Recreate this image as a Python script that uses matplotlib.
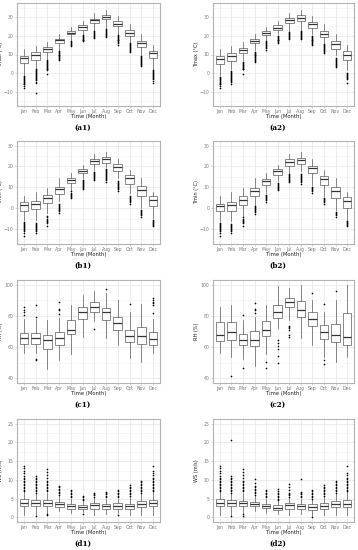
import matplotlib.pyplot as plt

months = ["Jan", "Feb", "Mar", "Apr", "May", "Jun", "Jul", "Aug", "Sep", "Oct", "Nov", "Dec"]

# ---- (a1) Tmax ----
a1_lo = [-0.9, 2.7, 7.4, 12.4, 17.3, 21.2, 23.0, 24.0, 21.2, 16.8, 9.7, 2.2]
a1_q1 = [5.3, 7.1, 11.1, 16.3, 20.7, 23.3, 27.0, 28.8, 25.2, 20.0, 13.8, 8.0]
a1_med = [8.0, 9.7, 12.7, 17.5, 21.7, 24.5, 28.2, 30.2, 26.5, 21.7, 15.9, 10.9]
a1_q3 = [9.2, 11.1, 13.8, 18.5, 22.6, 25.6, 29.1, 31.0, 27.7, 23.0, 17.1, 11.9]
a1_hi = [12.7, 14.5, 16.8, 21.0, 24.7, 27.9, 32.3, 33.5, 30.4, 26.5, 20.7, 15.0]
a1_out = [
    [-1.5, -2, -2.5, -3, -3.5, -4, -4.5, -5, -5.5, -6, -7, -8],
    [2, 1.5, 1, 0.5, 0, -0.5, -1, -1.5, -2, -2.5, -3, -3.5, -4.5, -5, -10.5],
    [7, 6.5, 6, 5.5, 5, 4.5, 4, 3.5, 3, 2.5, 2, 1.5, -0.5],
    [12, 11.5, 11, 10.5, 10, 9.5, 9, 8.5, 8, 7.5, 7],
    [17, 16.5, 16, 15.5, 15, 14.5],
    [20.5, 20, 19.5, 19, 18.5, 18, 17.5, 17],
    [22.5, 22, 21.5, 21, 20.5, 20, 19.5, 19],
    [23.5, 23, 22.5, 22, 21.5, 21, 20.5, 20, 19.5],
    [20.5, 20, 19.5, 19, 18.5, 18, 17.5, 17, 16.5, 16, 15],
    [16, 15.5, 15, 14.5, 14, 13.5, 13, 12.5, 12, 11.5],
    [9, 8.5, 8, 7.5, 7, 6.5, 6, 5.5, 5, 4.5, 4],
    [1.5, 1, 0.5, 0, -0.5, -1, -1.5, -2, -2.5, -3, -4, -5],
]

# ---- (a2) Tmax ----
a2_lo = [-0.9, 2.3, 7.1, 12.4, 16.3, 20.7, 22.4, 23.0, 20.7, 16.3, 9.7, 1.8]
a2_q1 = [4.9, 6.7, 10.6, 15.9, 20.5, 23.3, 26.8, 27.9, 24.4, 19.4, 12.7, 7.1]
a2_med = [7.6, 9.2, 12.4, 17.1, 21.5, 24.4, 28.2, 29.6, 26.1, 21.2, 15.5, 10.0]
a2_q3 = [9.2, 10.6, 13.6, 18.4, 22.4, 25.6, 29.3, 30.9, 27.4, 22.6, 17.3, 11.9]
a2_hi = [12.7, 14.5, 16.8, 21.0, 24.7, 27.9, 32.3, 33.5, 30.4, 26.1, 20.7, 15.0]
a2_out = [
    [-2, -2.5, -3, -3.5, -4, -4.5, -5, -5.5, -6, -7, -8],
    [1, 0.5, 0, -0.5, -1, -1.5, -2, -2.5, -3, -3.5, -4, -4.5, -5.5],
    [6, 5.5, 5, 4.5, 4, 3.5, 3, 2.5, 2, -0.5],
    [11.5, 11, 10.5, 10, 9.5, 9, 8.5, 8, 7.5, 7, 6.5, 6],
    [17, 16.5, 16, 15.5, 15, 14.5, 14, 13.5, 12.5],
    [20, 19.5, 19, 18.5, 18, 17.5, 17, 16.5, 16],
    [22, 21.5, 21, 20.5, 20, 19.5, 19, 18.5],
    [22.5, 22, 21.5, 21, 20.5, 20, 19.5, 19, 18.5],
    [20, 19.5, 19, 18.5, 18, 17.5, 17, 16.5, 16, 15.5, 15],
    [15.5, 15, 14.5, 14, 13.5, 13, 12.5, 12, 11.5, 11],
    [8, 7.5, 7, 6.5, 6, 5.5, 5, 4.5, 4, 3.5],
    [0, -0.5, -1, -1.5, -2, -2.5, -3, -5],
]

# ---- (b1) Tmin ----
b1_lo = [-5.5, -5.5, -2.4, 3.2, 8.8, 14.4, 18.4, 19.6, 14.4, 7.1, 0.0, -4.7]
b1_q1 = [-1.2, -0.3, 2.4, 6.7, 12.0, 16.8, 21.1, 21.9, 17.9, 11.5, 5.6, 0.8]
b1_med = [1.6, 2.1, 4.8, 9.1, 13.6, 18.0, 22.7, 23.6, 19.6, 14.4, 8.8, 4.0]
b1_q3 = [2.9, 3.5, 6.4, 10.0, 14.7, 18.8, 23.6, 24.7, 21.1, 15.7, 10.4, 5.6]
b1_hi = [5.6, 7.7, 9.6, 14.5, 17.1, 20.8, 25.9, 27.1, 23.5, 18.4, 14.4, 7.7]
b1_out = [
    [-6.5, -7, -7.5, -8, -8.5, -9, -9.5, -10, -10.5, -11, -12, -13.2],
    [-7, -7.5, -8, -8.5, -9, -9.5, -10, -10.5, -11, -11.9],
    [-4, -4.5, -5, -5.5, -6, -6.5, -7, -8.5],
    [2, 1.5, 1, 0.5, 0, -0.5, -1, -1.5, -2.5],
    [8, 7.5, 7, 6.5, 6, 5.5, 4.8],
    [13.5, 13, 12.5, 12, 11.5, 11, 10.5, 10, 9.5, 9],
    [17.5, 17, 16.5, 16, 15.5, 15, 14.5, 14, 13.5],
    [19, 18.5, 18, 17.5, 17, 16.5, 16, 15.5, 15, 14.5, 14, 13.5, 12.5],
    [13, 12.5, 12, 11.5, 11, 10.5, 10, 9.5, 9, 8],
    [6, 5.5, 5, 4.5, 4, 3.5, 3, 2],
    [-1, -1.5, -2, -2.5, -3, -3.5, -4.5],
    [-5.5, -6, -6.5, -7, -7.5, -8, -8.8],
]

# ---- (b2) Tmin ----
b2_lo = [-6.3, -6.0, -4.4, 1.6, 7.2, 12.8, 16.8, 17.6, 11.2, 5.6, -0.8, -5.5]
b2_q1 = [-1.6, -1.2, 1.6, 5.9, 11.2, 15.7, 20.4, 21.1, 16.8, 10.9, 4.8, 0.0]
b2_med = [0.8, 1.6, 4.0, 8.3, 12.8, 17.6, 22.0, 23.1, 19.2, 13.9, 8.0, 3.5]
b2_q3 = [2.0, 2.7, 5.6, 9.6, 13.9, 18.8, 23.5, 24.3, 20.4, 15.2, 10.0, 5.1]
b2_hi = [5.6, 7.7, 9.6, 14.5, 17.1, 20.8, 25.9, 27.1, 23.5, 18.4, 14.4, 7.7]
b2_out = [
    [-7, -7.5, -8, -8.5, -9, -9.5, -10, -10.5, -11, -12, -13.5],
    [-7.5, -8, -8.5, -9, -9.5, -10, -10.5, -11, -12],
    [-4.5, -5, -5.5, -6, -6.5, -7, -8.5],
    [1, 0.5, 0, -0.5, -1, -1.5, -2, -3],
    [6.5, 6, 5.5, 5, 4.5, 4, 3],
    [12, 11.5, 11, 10.5, 10, 9.5, 9, 8.5],
    [16.5, 16, 15.5, 15, 14.5, 14, 13.5, 13, 12.5],
    [16.5, 16, 15.5, 15, 14.5, 14, 13.5, 13, 12.5, 11.5],
    [10, 9.5, 9, 8.5, 8, 7.5],
    [5, 4.5, 4, 3.5, 3, 2],
    [-2, -2.5, -3, -3.5, -4.5],
    [-6, -6.5, -7, -7.5, -8, -8.5],
]

# ---- (c1) RH ----
c1_lo = [56.3, 56.3, 46.2, 51.7, 55.9, 66.5, 76.5, 65.9, 61.6, 53.1, 50.6, 56.3]
c1_q1 = [62.3, 62.3, 58.9, 61.6, 68.4, 78.0, 82.2, 77.1, 71.2, 63.3, 62.3, 61.6]
c1_med = [65.9, 65.9, 64.4, 65.9, 71.2, 82.2, 85.6, 82.2, 75.4, 67.4, 66.9, 65.2]
c1_q3 = [69.0, 69.0, 68.0, 69.9, 77.1, 86.0, 88.6, 84.9, 79.0, 70.7, 72.9, 69.5]
c1_hi = [78.0, 78.0, 77.5, 78.6, 86.9, 93.4, 96.2, 94.5, 90.2, 82.4, 87.7, 78.0]
c1_out = [
    [80.7, 82.2, 83.5, 85.6],
    [79.2, 87.3, 52.5, 51.7],
    [],
    [81.3, 83.5, 84.3, 89.2],
    [],
    [],
    [71.6],
    [97.5],
    [],
    [87.7],
    [],
    [81.8, 87, 88, 89, 90, 91.5],
]

# ---- (c2) RH ----
c2_lo = [56.3, 53.8, 52.5, 47.8, 55.3, 72.2, 77.5, 65.9, 61.6, 53.8, 50.4, 53.8]
c2_q1 = [63.7, 64.4, 61.6, 61.0, 67.4, 78.6, 85.6, 79.6, 73.3, 65.2, 63.1, 61.6]
c2_med = [68.0, 69.7, 64.8, 64.8, 71.2, 82.8, 88.8, 83.9, 78.0, 69.5, 68.0, 66.5]
c2_q3 = [75.8, 76.0, 68.6, 70.1, 76.5, 87.3, 91.3, 89.8, 82.2, 73.9, 75.0, 81.8]
c2_hi = [85.6, 87.3, 77.5, 79.6, 87.1, 99.2, 97.7, 100.0, 90.5, 82.4, 90.2, 100.0]
c2_out = [
    [],
    [41.5],
    [80.5, 46.6],
    [82, 83.5, 84.5, 88.5],
    [50.4, 46.6],
    [64.8, 62.7, 60.6, 58.5, 54.6, 50],
    [73.7, 72.9, 72, 71.2, 67.8, 66.5],
    [],
    [94.5],
    [87.7, 51.7, 48.9],
    [96.2],
    [],
]

# ---- (d1) WS ----
d1_lo = [0.5, 0.7, 1.2, 1.6, 1.2, 1.4, 0.7, 0.9, 1.1, 0.7, 0.7, 0.5]
d1_q1 = [2.9, 3.1, 3.1, 2.7, 2.3, 2.1, 2.3, 2.3, 2.3, 2.3, 2.7, 2.9]
d1_med = [3.8, 3.8, 3.7, 3.5, 3.0, 2.7, 3.2, 2.9, 3.1, 3.0, 3.5, 3.8]
d1_q3 = [4.9, 4.5, 4.5, 4.1, 3.6, 3.3, 3.8, 3.5, 3.7, 3.6, 4.3, 4.7]
d1_hi = [6.7, 6.2, 6.5, 5.6, 5.0, 4.3, 5.1, 5.0, 5.0, 5.3, 6.2, 6.7]
d1_out = [
    [7, 7.4, 7.8, 8.2, 8.6, 9, 9.4, 9.8, 10.2, 10.6, 11, 11.8, 12.5, 13.2, 13.8],
    [6.6, 7, 7.4, 7.8, 8.2, 8.6, 9, 9.4, 9.8, 10.2, 10.6, 10.9, 0.3],
    [7, 7.4, 7.8, 8.2, 8.6, 9, 9.4, 9.8, 10.5, 11.3, 12.2, 12.9, 0.8, 0.5],
    [6, 6.4, 6.8, 7.2, 7.6, 8, 8.3],
    [5.4, 5.8, 6.2, 6.6, 7, 7.4],
    [4.6, 5, 5.3, 5.6, 0.9],
    [5.5, 5.9, 6.3, 6.6],
    [5.4, 5.8, 6.2, 6.6, 6.8],
    [5.4, 5.8, 6.2, 6.6, 7, 7.3, 0.5],
    [5.8, 6.2, 6.6, 7, 7.4, 7.8, 8.2, 8.7],
    [6.6, 7, 7.4, 7.8, 8.2, 8.6, 9, 9.4, 9.8],
    [7, 7.4, 7.8, 8.2, 8.6, 9, 9.4, 9.8, 10.2, 10.6, 11.2, 11.8, 12.5, 13.8],
]

# ---- (d2) WS ----
d2_lo = [0.5, 0.7, 1.2, 1.6, 1.2, 1.0, 0.7, 0.9, 0.4, 0.7, 0.7, 0.5]
d2_q1 = [2.9, 2.9, 3.1, 2.9, 2.5, 2.0, 2.3, 2.3, 2.0, 2.3, 2.7, 2.7]
d2_med = [3.7, 3.7, 3.7, 3.5, 3.0, 2.5, 3.2, 2.9, 2.7, 3.1, 3.5, 3.6]
d2_q3 = [4.9, 4.5, 4.4, 4.1, 3.5, 3.2, 3.8, 3.5, 3.5, 3.7, 4.3, 4.5]
d2_hi = [6.7, 6.2, 6.5, 5.6, 5.0, 4.3, 5.1, 5.0, 4.8, 5.3, 6.2, 6.7]
d2_out = [
    [7, 7.4, 7.8, 8.2, 8.6, 9, 9.4, 9.8, 10.2, 10.6, 11, 11.8, 12.5, 13.2, 13.8],
    [6.6, 7, 7.4, 7.8, 8.2, 8.6, 9, 9.4, 9.8, 10.2, 10.6, 11, 20.7, 0.3],
    [7, 7.4, 7.8, 8.2, 8.6, 9, 9.4, 9.8, 10.5, 11.3, 12.2, 13, 0.8, 0.3],
    [6, 6.4, 6.8, 7.2, 7.6, 8, 8.3, 9.2, 10.2],
    [5.4, 5.8, 6.2, 6.6, 7, 7.4],
    [4.6, 5, 5.4, 5.8, 6.2, 6.6, 7, 7.5],
    [5.5, 5.9, 6.3, 6.6, 7.4, 8.2, 9],
    [5.4, 5.8, 6.2, 6.6, 6.8, 10.2],
    [5, 5.4, 5.8, 6.2, 6.6, 7, 7.3, 0.1],
    [5.8, 6.2, 6.6, 7, 7.4, 7.8, 8.2, 8.7],
    [6.6, 7, 7.4, 7.8, 8.2, 8.6, 9, 9.4, 9.8],
    [7, 7.4, 7.8, 8.2, 8.6, 9, 9.4, 9.8, 10.2, 10.6, 11.2, 11.8, 13.8],
]

# -------------------------
# Figure
# -------------------------
W, H = 358, 550
fig = plt.figure(figsize=(W / 100, H / 100), dpi=100)


def panel(left, top, width, height, lo, q1, med, q3, hi, out,
          ylim, yticks, yminor, ylabel, tag):
    ax = fig.add_axes([left / W, 1 - (top + height) / H, width / W, height / H])
    stats = []
    for i in range(12):
        stats.append(dict(whislo=lo[i], q1=q1[i], med=med[i], q3=q3[i],
                          whishi=hi[i], fliers=out[i]))
    ax.bxp(stats, positions=range(1, 13), widths=0.75, patch_artist=True,
           showcaps=False,
           boxprops=dict(facecolor="white", edgecolor="#5a5a5a", linewidth=0.5),
           medianprops=dict(color="#333333", linewidth=0.9),
           whiskerprops=dict(color="#5a5a5a", linewidth=0.5),
           flierprops=dict(marker="o", markersize=1.2, markerfacecolor="black",
                           markeredgecolor="none"))
    ax.set_xlim(0.4, 12.6)
    ax.set_ylim(*ylim)
    ax.set_xticks(range(1, 13))
    ax.set_xticklabels(months)
    ax.set_yticks(yticks)
    ax.set_yticks(yminor, minor=True)
    ax.set_axisbelow(True)
    ax.grid(which="major", color="#e4e4e4", linewidth=0.5)
    ax.grid(which="minor", axis="y", color="#f1f1f1", linewidth=0.4)
    for s in ax.spines.values():
        s.set_color("#b3b3b3")
        s.set_linewidth(0.8)
    ax.tick_params(which="major", length=1.5, width=0.4, color="#b3b3b3",
                   labelsize=3.3, labelcolor="#7a7a7a", pad=1)
    ax.tick_params(which="minor", length=0)
    ax.set_ylabel(ylabel, fontsize=3.6, color="#222222")
    ax.yaxis.set_label_coords(-13.5 / width, 0.5)
    ax.set_xlabel("Time (Month)", fontsize=3.8, labelpad=-0.5, color="#222222")
    fig.text((left + width / 2 - 6) / W, 1 - (top + height + 21.5) / H, tag,
             family="DejaVu Serif", fontweight="bold", fontsize=5.2,
             ha="center", va="center")
    return ax


lx, rx = 17, 213
lw, rw = 143, 141
ph = 103

panel(lx, 3, lw, ph, a1_lo, a1_q1, a1_med, a1_q3, a1_hi, a1_out,
      (-17.5, 37.5), [-10, 0, 10, 20, 30], [-15, -5, 5, 15, 25, 35], "Tmax (°C)", "(a1)")
panel(rx, 3, rw, ph, a2_lo, a2_q1, a2_med, a2_q3, a2_hi, a2_out,
      (-17.5, 37.5), [-10, 0, 10, 20, 30], [-15, -5, 5, 15, 25, 35], "Tmax (°C)", "(a2)")
panel(lx, 141, lw, ph, b1_lo, b1_q1, b1_med, b1_q3, b1_hi, b1_out,
      (-17.25, 32.25), [-10, 0, 10, 20, 30], [-15, -5, 5, 15, 25], "Tmin (°C)", "(b1)")
panel(rx, 141, rw, ph, b2_lo, b2_q1, b2_med, b2_q3, b2_hi, b2_out,
      (-17.25, 32.25), [-10, 0, 10, 20, 30], [-15, -5, 5, 15, 25], "Tmin (°C)", "(b2)")
panel(lx, 280, lw, ph, c1_lo, c1_q1, c1_med, c1_q3, c1_hi, c1_out,
      (37, 103), [40, 60, 80, 100], [50, 70, 90], "RH (%)", "(c1)")
panel(rx, 280, rw, ph, c2_lo, c2_q1, c2_med, c2_q3, c2_hi, c2_out,
      (37, 103), [40, 60, 80, 100], [50, 70, 90], "RH (%)", "(c2)")
panel(lx, 419, lw, ph, d1_lo, d1_q1, d1_med, d1_q3, d1_hi, d1_out,
      (-1.25, 26.25), [0, 5, 10, 15, 20, 25], [2.5, 7.5, 12.5, 17.5, 22.5], "WS (m/s)", "(d1)")
panel(rx, 419, rw, ph, d2_lo, d2_q1, d2_med, d2_q3, d2_hi, d2_out,
      (-1.25, 26.25), [0, 5, 10, 15, 20, 25], [2.5, 7.5, 12.5, 17.5, 22.5], "WS (m/s)", "(d2)")

fig.savefig("out.png", dpi=100)
